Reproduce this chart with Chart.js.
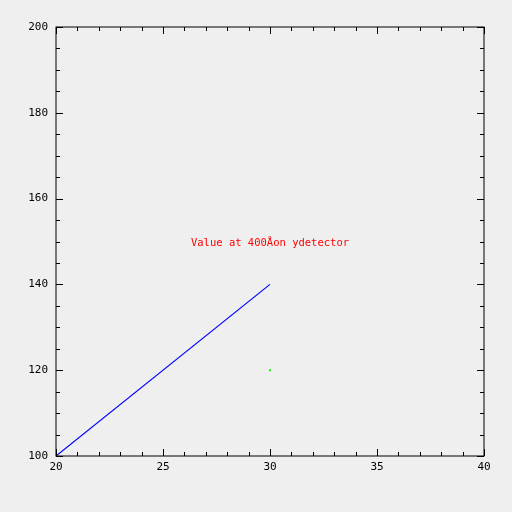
<!DOCTYPE html>
<html>
<head>
<meta charset="utf-8">
<script src="https://cdn.jsdelivr.net/npm/chart.js@4/dist/chart.umd.min.js"></script>
<style>
  html, body { margin: 0; padding: 0; background: #efefef; }
  #wrap { width: 512px; height: 512px; }
</style>
</head>
<body>
<div id="wrap"><canvas id="plot" width="512" height="512"></canvas></div>
<script>
// data
const lineX = [20, 30];
const lineY = [100, 140];
const dotX = [30];
const dotY = [120];
const xTicks = [20, 25, 30, 35, 40];
const yTicks = [100, 120, 140, 160, 180, 200];
const xMinorStep = 1;
const yMinorStep = 5;
const noteText = "Value at 400\u00C5on ydetector";
const noteAt = [30, 150];

const tickFont = { family: "DejaVu Sans Mono", size: 11, weight: "500" };

// draws the box, inward ticks (all four sides) and the red note
const framePlugin = {
  id: "frame",
  beforeDraw(chart) {
    const c = chart.ctx;
    c.save();
    c.fillStyle = "#efefef";
    c.fillRect(0, 0, chart.width, chart.height);
    c.restore();
  },
  afterDraw(chart) {
    const c = chart.ctx;
    const a = chart.chartArea;
    const xs = chart.scales.x, ys = chart.scales.y;
    c.save();
    c.strokeStyle = "#000";
    c.lineWidth = 1;
    c.strokeRect(a.left, a.top, a.right - a.left, a.bottom - a.top);
    c.beginPath();
    for (let v = xs.min; v <= xs.max; v += xMinorStep) {
      const px = Math.round(xs.getPixelForValue(v)) + 0.5;
      const len = xTicks.includes(v) ? 7 : 4;
      c.moveTo(px, a.bottom); c.lineTo(px, a.bottom - len);
      c.moveTo(px, a.top); c.lineTo(px, a.top + len);
    }
    for (let v = ys.min; v <= ys.max; v += yMinorStep) {
      const py = Math.round(ys.getPixelForValue(v)) + 0.5;
      const len = yTicks.includes(v) ? 7 : 4;
      c.moveTo(a.left, py); c.lineTo(a.left + len, py);
      c.moveTo(a.right, py); c.lineTo(a.right - len, py);
    }
    c.stroke();

    c.fillStyle = "#ff0000";
    c.font = "10.5px 'DejaVu Sans Mono'";
    c.textAlign = "center";
    c.textBaseline = "middle";
    c.fillText(noteText, xs.getPixelForValue(noteAt[0]), ys.getPixelForValue(noteAt[1]) + 1.5);
    c.restore();
  }
};

const ctx = document.getElementById("plot").getContext("2d");

new Chart(ctx, {
  type: "scatter",
  data: {
    datasets: [
      {
        label: "line",
        data: lineX.map((x, i) => ({ x: x, y: lineY[i] })),
        showLine: true,
        borderColor: "#0000ff",
        borderWidth: 1.2,
        pointRadius: 0
      },
      {
        label: "dot",
        data: dotX.map((x, i) => ({ x: x, y: dotY[i] })),
        showLine: false,
        backgroundColor: "#00ff00",
        borderColor: "#00ff00",
        pointStyle: "rect",
        pointRadius: 1.4,
        pointBorderWidth: 0
      }
    ]
  },
  options: {
    responsive: false,
    animation: false,
    layout: { padding: { top: 27, right: 28, left: 0, bottom: 0 } },
    plugins: { legend: { display: false }, tooltip: { enabled: false } },
    scales: {
      x: {
        type: "linear",
        min: 20, max: 40,
        afterFit(s) { s.height = 56; },
        afterBuildTicks(s) { s.ticks = xTicks.map(v => ({ value: v })); },
        grid: { display: false, drawTicks: false },
        border: { display: false },
        ticks: { font: tickFont, color: "#000", padding: 5, maxRotation: 0 }
      },
      y: {
        type: "linear",
        min: 100, max: 200,
        afterFit(s) { s.width = 56; },
        afterBuildTicks(s) { s.ticks = yTicks.map(v => ({ value: v })); },
        grid: { display: false, drawTicks: false },
        border: { display: false },
        ticks: { font: tickFont, color: "#000", padding: 8 }
      }
    }
  },
  plugins: [framePlugin]
});
</script>
</body>
</html>
